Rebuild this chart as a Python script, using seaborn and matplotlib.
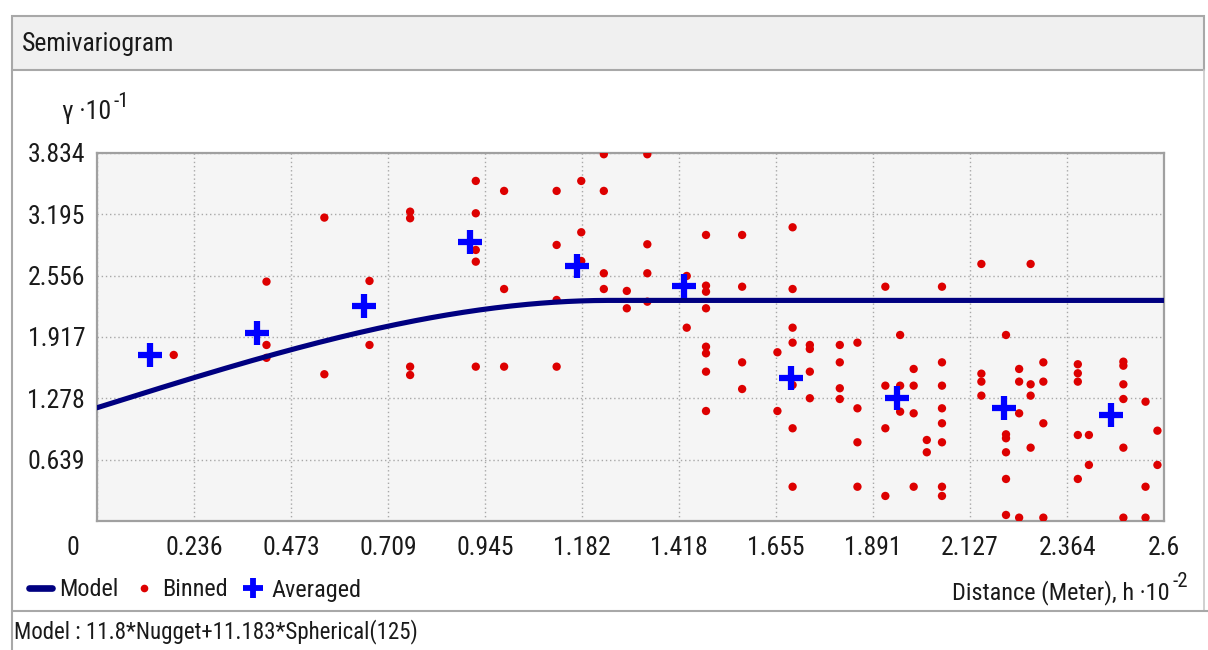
import numpy as np
import pandas as pd
import matplotlib
matplotlib.use("Agg")
import matplotlib.pyplot as plt
import seaborn as sns
from matplotlib.patches import Rectangle
from matplotlib.lines import Line2D
from matplotlib.transforms import ScaledTranslation

# ---------------- data ----------------
x_tick_labels = ["0", "0.236", "0.473", "0.709", "0.945", "1.182", "1.418",
                 "1.655", "1.891", "2.127", "2.364", "2.6"]
y_tick_labels = ["0.639", "1.278", "1.917", "2.556", "3.195", "3.834"]

# model parameters (from "Model : 11.8*Nugget+11.183*Spherical(125)")
nugget = 11.8
partial_sill = 11.183
model_range = 125
gamma_scale = 1e-1   # gamma axis shown in units of 10^-1
h_scale = 1e-2       # distance axis shown in units of 10^-2

averaged_h = [0.13, 0.39, 0.65, 0.91, 1.17, 1.43, 1.69, 1.95, 2.21, 2.47]
averaged_gamma = [1.730, 1.962, 2.243, 2.910, 2.657, 2.452, 1.487, 1.279, 1.174, 1.105]

binned_h = [
    0.187,
    0.413, 0.413, 0.413,
    0.554, 0.554,
    0.664, 0.664,
    0.763, 0.763, 0.763, 0.763,
    0.923, 0.923, 0.923, 0.923, 0.923,
    0.992, 0.992, 0.992,
    1.120, 1.120, 1.120, 1.120,
    1.180, 1.180, 1.180,
    1.235, 1.235, 1.235, 1.235,
    1.291, 1.291,
    1.341, 1.341, 1.341, 1.341,
    1.437, 1.437,
    1.484, 1.484, 1.484, 1.484, 1.484, 1.484, 1.484, 1.484,
    1.572, 1.572, 1.572, 1.572,
    1.658, 1.658,
    1.695, 1.695, 1.695, 1.695, 1.695, 1.695, 1.695,
    1.737, 1.737, 1.737, 1.737,
    1.810, 1.810, 1.810, 1.810,
    1.853, 1.853, 1.853, 1.853,
    1.921, 1.921, 1.921, 1.921,
    1.957, 1.957, 1.957,
    1.990, 1.990, 1.990, 1.990,
    2.022, 2.022,
    2.059, 2.059, 2.059, 2.059, 2.059, 2.059, 2.059, 2.059,
    2.155, 2.155, 2.155, 2.155,
    2.215, 2.215, 2.215, 2.215, 2.215, 2.215,
    2.247, 2.247, 2.247, 2.247,
    2.275, 2.275, 2.275, 2.275,
    2.306, 2.306, 2.306, 2.306,
    2.390, 2.390, 2.390, 2.390, 2.390,
    2.417, 2.417,
    2.501, 2.501, 2.501, 2.501, 2.501, 2.501,
    2.555, 2.555, 2.555,
    2.584, 2.584,
]
binned_gamma = [
    1.730,
    2.494, 1.834, 1.700,
    3.161, 1.529,
    2.501, 1.834,
    3.223, 3.154, 1.608, 1.521,
    3.543, 3.206, 2.824, 2.702, 1.608,
    3.439, 2.417, 1.608,
    3.439, 2.876, 2.303, 1.608,
    3.543, 3.008, 2.709,
    3.821, 3.439, 2.581, 2.417,
    2.397, 2.216,
    3.821, 2.883, 2.581, 2.285,
    2.553, 2.014,
    2.980, 2.452, 2.389, 2.216, 1.816, 1.747, 1.556, 1.146,
    2.980, 2.441, 1.653, 1.375,
    1.758, 1.146,
    3.060, 2.417, 2.014, 1.858, 1.417, 0.966, 0.357,
    1.834, 1.792, 1.556, 1.279,
    1.834, 1.653, 1.383, 1.271,
    1.858, 1.174, 0.820, 0.357,
    2.441, 1.410, 0.966, 0.261,
    1.938, 1.410, 1.139,
    1.584, 1.410, 1.122, 0.357,
    0.844, 0.716,
    2.441, 1.653, 1.410, 1.174, 1.018, 0.820, 0.357, 0.261,
    2.678, 1.535, 1.452, 1.306,
    1.938, 0.903, 0.862, 0.716, 0.438, 0.063,
    1.584, 1.452, 1.122, 0.035,
    2.678, 1.424, 1.306, 0.764,
    1.653, 1.452, 1.018, 0.035,
    1.633, 1.539, 1.452, 0.896, 0.438,
    0.896, 0.584,
    1.660, 1.618, 1.424, 1.271, 0.764, 0.035,
    1.243, 0.357, 0.035,
    0.941, 0.584,
]

# ---------------- style ----------------
sns.set_style("white")
plt.rcParams['font.family'] = ['Roboto Condensed', 'Archivo Narrow', 'PT Sans Narrow',
                               'Liberation Sans', 'DejaVu Sans']
TXT = "#1a1a1a"
FS = 18.5

W, H = 1208, 650
def fx(px):
    return px / W
def fy(py):
    return 1 - py / H

fig = plt.figure(figsize=(W / 100, H / 100), dpi=100)
fig.patch.set_facecolor("white")

# window chrome
fig.patches.append(Rectangle((fx(12), fy(70)), fx(1204) - fx(12), fy(16) - fy(70),
                             transform=fig.transFigure, facecolor="#f0f0f0",
                             edgecolor="#a8a8a8", lw=1.5, zorder=0))
fig.lines.append(Line2D([fx(12), fx(12)], [fy(70), fy(650)], transform=fig.transFigure,
                        color="#a8a8a8", lw=1.5))
fig.lines.append(Line2D([fx(1204), fx(1204)], [fy(70), fy(611)], transform=fig.transFigure,
                        color="#c8c8c8", lw=1.2))
fig.lines.append(Line2D([fx(12), fx(1208)], [fy(611), fy(611)], transform=fig.transFigure,
                        color="#a8a8a8", lw=1.5))

fig.text(fx(22), fy(44), "Semivariogram", ha="left", va="center", fontsize=18.5, color=TXT)

# ---------------- axes ----------------
ax = fig.add_axes([fx(97), fy(521), fx(1164) - fx(97), fy(153) - fy(521)])
ax.set_facecolor("#f5f5f5")

df_bin = pd.DataFrame({"h": binned_h, "gamma": binned_gamma})
df_avg = pd.DataFrame({"h": averaged_h, "gamma": averaged_gamma})

h_grid = np.linspace(0, float(x_tick_labels[-1]), 400)
a = model_range * h_scale
c0 = nugget * gamma_scale
c = partial_sill * gamma_scale
r = np.clip(h_grid / a, 0, 1)
gamma_model = c0 + c * (1.5 * r - 0.5 * r ** 3)
df_model = pd.DataFrame({"h": h_grid, "gamma": gamma_model})

sns.scatterplot(data=df_bin, x="h", y="gamma", ax=ax, color="#dd0000", s=36,
                edgecolor="none", zorder=3, legend=False)
sns.lineplot(data=df_model, x="h", y="gamma", ax=ax, color="#000080", lw=3.7,
             zorder=4, legend=False)
sns.scatterplot(data=df_avg, x="h", y="gamma", ax=ax, marker="+", s=290,
                color="#0000ff", edgecolor="#0000ff", linewidth=4.5, zorder=5, legend=False)

xt = [float(t) for t in x_tick_labels]
yt = [float(t) for t in y_tick_labels]
ax.set_xlim(xt[0], xt[-1])
ax.set_ylim(0, yt[-1])
ax.set_xticks(xt)
ax.set_xticklabels(x_tick_labels)
ax.set_yticks(yt)
ax.set_yticklabels(y_tick_labels)
ax.set_xlabel("")
ax.set_ylabel("")
ax.tick_params(axis="x", length=0, pad=11, labelsize=FS, labelcolor=TXT)
ax.tick_params(axis="y", length=0, pad=8.5, labelsize=FS, labelcolor=TXT)
ax.grid(True, color="#a8a8a8", lw=1.0, ls=(0, (1, 2)))
ax.set_axisbelow(True)
for s in ax.spines.values():
    s.set_visible(True)
    s.set_color("#a0a0a0")
    s.set_linewidth(1.6)

# shift the "0" origin label left as in the reference
lab0 = ax.get_xticklabels()[0]
lab0.set_transform(lab0.get_transform() + ScaledTranslation(-0.24, 0, fig.dpi_scale_trans))

# axis titles with superscript exponents
ylab = fig.text(fx(62), fy(119), "γ ·10", ha="left", va="baseline", fontsize=FS, color=TXT)
ax.annotate("-1", xy=(1.0, 0.55), xycoords=ylab, xytext=(2, 0), textcoords="offset points",
            ha="left", va="bottom", fontsize=15, color=TXT, annotation_clip=False)
xlab = fig.text(fx(1170), fy(599), "Distance (Meter), h ·10", ha="right", va="baseline",
                fontsize=17.5, color=TXT)
ax.annotate("-2", xy=(1.0, 0.55), xycoords=xlab, xytext=(2, 0), textcoords="offset points",
            ha="left", va="bottom", fontsize=15, color=TXT, annotation_clip=False)

# legend
handles = [
    Line2D([], [], color="#000080", lw=4.8),
    Line2D([], [], marker="o", color="#dd0000", ls="", ms=5.5, mec="none"),
    Line2D([], [], marker="+", color="#0000ff", ls="", ms=15, mew=4.2),
]
leg = ax.legend(handles, ["Model", "Binned", "Averaged"], loc="center left",
                bbox_to_anchor=(fx(29), fy(590)), bbox_transform=fig.transFigure,
                ncol=3, frameon=False, handlelength=0.95, handletextpad=0.3,
                columnspacing=0.55, borderpad=0, borderaxespad=0, fontsize=17.5)
for t in leg.get_texts():
    t.set_color(TXT)

fig.text(fx(14), fy(632), "Model : 11.8*Nugget+11.183*Spherical(125)", ha="left",
         va="center", fontsize=16.5, color=TXT)

fig.savefig("out.png", dpi=100, facecolor="white")
